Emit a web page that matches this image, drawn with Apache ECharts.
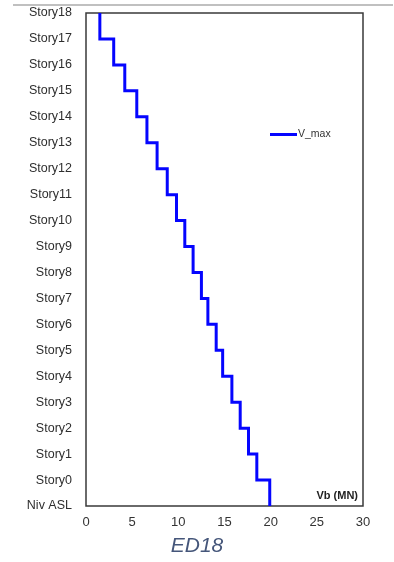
<!DOCTYPE html>
<html><head><meta charset="utf-8">
<script src="https://cdn.jsdelivr.net/npm/echarts@6/dist/echarts.min.js"></script>
<style>html,body{margin:0;padding:0;background:#fff;}#c{width:394px;height:562px;}</style>
</head><body><div id="c"></div>
<script>
// Levels from bottom to top
const levels = ['Niv ASL','Story0','Story1','Story2','Story3','Story4','Story5','Story6','Story7','Story8','Story9','Story10','Story11','Story12','Story13','Story14','Story15','Story16','Story17','Story18'];
// V_max for each interval between level i and level i+1 (MN)
const vMax = [19.9, 18.5, 17.6, 16.7, 15.8, 14.8, 14.1, 13.2, 12.5, 11.6, 10.7, 9.8, 8.8, 7.7, 6.6, 5.5, 4.2, 3.0, 1.5];
const xTicks = [0, 5, 10, 15, 20, 25, 30];
const seriesName = 'V_max';
const axisTitle = 'Vb (MN)';
const caption = 'ED18';

const pts = [];
vMax.forEach((v, i) => { pts.push([v, i]); pts.push([v, i + 1]); });

const chart = echarts.init(document.getElementById('c'), null, {renderer: 'canvas'});
chart.setOption({
  backgroundColor: '#fff',
  animation: false,
  textStyle: {fontFamily: 'Liberation Sans, Arial, sans-serif'},
  grid: {left: 86, right: 31, top: 13, bottom: 56, show: true, borderColor: '#3a3a3a', borderWidth: 1.5, backgroundColor: 'transparent'},
  legend: {
    data: [seriesName], left: 265, top: 124, itemWidth: 27, itemHeight: 3, itemGap: 2,
    icon: 'rect', textStyle: {fontSize: 10.5, color: '#333', padding: [0,0,0,-4]}
  },
  xAxis: {
    type: 'value', min: xTicks[0], max: xTicks[xTicks.length - 1], interval: 5,
    axisLine: {show: false}, axisTick: {show: false}, splitLine: {show: false},
    axisLabel: {color: '#333', fontSize: 13, margin: 10}
  },
  yAxis: {
    type: 'value', min: 0, max: levels.length - 1, interval: 1,
    axisLine: {show: false}, axisTick: {show: false}, splitLine: {show: false},
    axisLabel: {color: '#2e2e2e', fontSize: 12.5, margin: 14, formatter: v => levels[v] || ''}
  },
  graphic: [
    {type: 'rect', left: 13, top: 4, shape: {width: 380, height: 2}, style: {fill: '#c0c0c0'}},
    {type: 'text', right: 36, top: 490, style: {text: axisTitle, font: 'bold 11px Liberation Sans, Arial, sans-serif', fill: '#222'}},
    {type: 'text', left: 'center', top: 536, style: {text: caption, font: 'italic 21px Liberation Sans, Arial, sans-serif', fill: '#45567a'}}
  ],
  series: [{
    name: seriesName, type: 'line', data: pts, showSymbol: false, symbol: 'none',
    lineStyle: {color: '#0505ff', width: 3, join: 'miter'}, itemStyle: {color: '#0505ff'}
  }]
});
</script></body></html>
